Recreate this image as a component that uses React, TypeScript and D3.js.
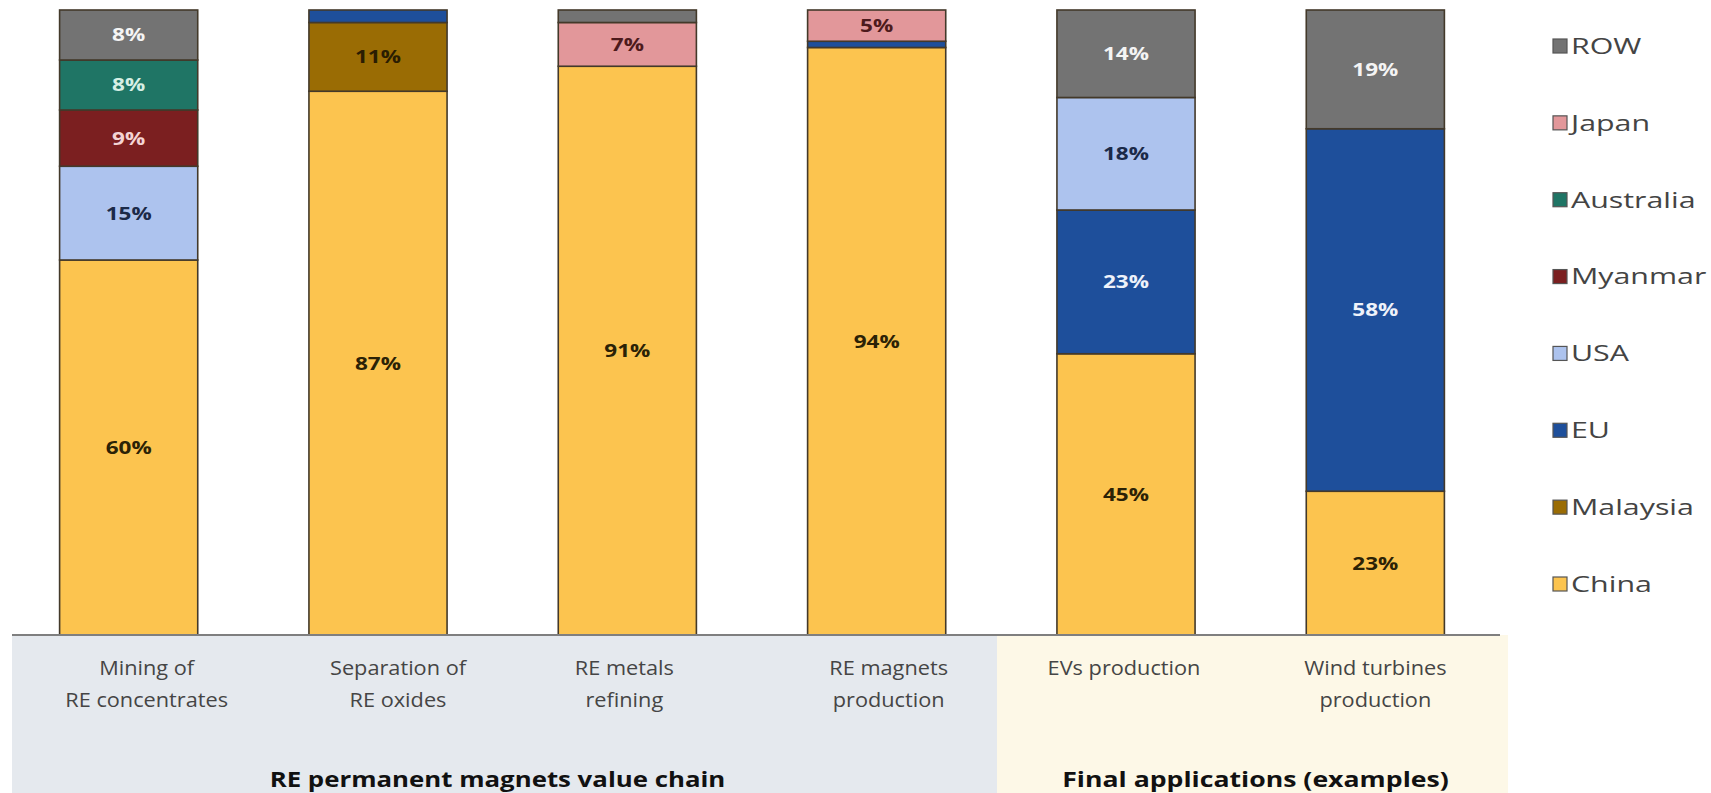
import React from "react";
import * as d3 from "d3";

const categories = [
  "Mining of RE concentrates",
  "Separation of RE oxides",
  "RE metals refining",
  "RE magnets production",
  "EVs production",
  "Wind turbines production",
];
const categoryLines = [
  ["Mining of", "RE concentrates"],
  ["Separation of", "RE oxides"],
  ["RE metals", "refining"],
  ["RE magnets", "production"],
  ["EVs production"],
  ["Wind turbines", "production"],
];
const groups = [
  { name: "RE permanent magnets value chain", from: 0, to: 3 },
  { name: "Final applications (examples)", from: 4, to: 5 },
];

// stacking order bottom -> top
const seriesNames = ["China", "Malaysia", "EU", "USA", "Myanmar", "Australia", "Japan", "ROW"];
const china = [60, 87, 91, 94, 45, 23];
const malaysia = [0, 11, 0, 0, 0, 0];
const eu = [0, 2, 0, 1, 23, 58];
const usa = [15, 0, 0, 0, 18, 0];
const myanmar = [9, 0, 0, 0, 0, 0];
const australia = [8, 0, 0, 0, 0, 0];
const japan = [0, 0, 7, 5, 0, 0];
const row = [8, 0, 2, 0, 14, 19];
const seriesValues = [china, malaysia, eu, usa, myanmar, australia, japan, row];

const fills: Record<string, string> = {
  China: "#fcc44f",
  Malaysia: "#9a6c04",
  EU: "#1e4f9b",
  USA: "#adc3ee",
  Myanmar: "#7b1f20",
  Australia: "#1f7565",
  Japan: "#e2979a",
  ROW: "#737373",
};
const labelColors: Record<string, string> = {
  China: "#2b2206",
  Malaysia: "#2a1d02",
  EU: "#eef2fa",
  USA: "#1b2a48",
  Myanmar: "#f4d4d4",
  Australia: "#d6efe4",
  Japan: "#4d1a1c",
  ROW: "#f4f4f4",
};
const legendOrder = ["ROW", "Japan", "Australia", "Myanmar", "USA", "EU", "Malaysia", "China"];

// layout nudges for category labels (text boxes were not exactly centred)
const labelNudge = [18, 20, -3, 12, -2, 0];

function SText(props: {
  x: number;
  y: number;
  sx: number;
  children: React.ReactNode;
  [k: string]: any;
}) {
  const { x, y, sx, children, ...rest } = props;
  return (
    <g transform={`translate(${x},${y}) scale(${sx},1)`}>
      <text x={0} y={0} {...rest}>
        {children}
      </text>
    </g>
  );
}

export default function App() {
  const W = 1711;
  const H = 793;
  const baseY = 635;
  const topY = 10;

  const x = d3
    .scaleBand<string>()
    .domain(categories)
    .range([4, 1500])
    .paddingInner(0.446)
    .paddingOuter(0.223);
  const y = d3.scaleLinear().domain([0, 100]).range([baseY, topY]);

  const table = categories.map((c, i) => {
    const o: Record<string, any> = { cat: c };
    seriesNames.forEach((s, k) => (o[s] = seriesValues[k][i]));
    return o;
  });
  const stacked = d3.stack<any>().keys(seriesNames)(table);

  const legendY = d3.scalePoint<string>().domain(legendOrder).range([46, 584]);

  const panelGreyX0 = 12;
  const panelSplit = 997;
  const panelEnd = 1508;

  const font = "'Open Sans', 'DejaVu Sans', sans-serif";

  return (
    <svg
      width={W}
      height={H}
      style={{ position: "absolute", left: 0, top: 0, background: "#ffffff" }}
      fontFamily={font}
    >
      {/* bottom panels */}
      <rect x={panelGreyX0} y={baseY} width={panelSplit - panelGreyX0} height={H - baseY} fill="#e5e9ee" />
      <rect x={panelSplit} y={baseY} width={panelEnd - panelSplit} height={H - baseY} fill="#fdf8e7" />

      {/* bars */}
      {stacked.map((layer) => {
        const name = layer.key;
        return (
          <g key={name}>
            {layer.map((d, i) => {
              const v = d[1] - d[0];
              if (v <= 0) return null;
              const bx = x(categories[i])!;
              const bw = x.bandwidth();
              const y0 = y(d[1]);
              const h = y(d[0]) - y(d[1]);
              return (
                <rect
                  key={i}
                  x={bx}
                  y={y0}
                  width={bw}
                  height={h}
                  fill={fills[name]}
                  stroke="#43392a"
                  strokeWidth={1.6}
                />
              );
            })}
          </g>
        );
      })}

      {/* value labels */}
      {stacked.map((layer) => {
        const name = layer.key;
        return (
          <g key={"l" + name}>
            {layer.map((d, i) => {
              const v = d[1] - d[0];
              if (v < 5) return null;
              const cx = x(categories[i])! + x.bandwidth() / 2;
              const cy = (y(d[0]) + y(d[1])) / 2;
              return (
                <SText
                  key={i}
                  x={cx}
                  y={cy}
                  sx={1.25}
                  dy="0.36em"
                  textAnchor="middle"
                  fontSize={18}
                  fontWeight={700}
                  fill={labelColors[name]}
                >
                  {v}%
                </SText>
              );
            })}
          </g>
        );
      })}

      {/* baseline */}
      <line x1={panelGreyX0} x2={1500} y1={baseY} y2={baseY} stroke="#7f7f7f" strokeWidth={2} />

      {/* category labels */}
      {categories.map((c, i) => {
        const cx = x(c)! + x.bandwidth() / 2 + labelNudge[i];
        return (
          <g key={c}>
            {categoryLines[i].map((ln, j) => (
              <SText
                key={j}
                x={cx}
                y={675 + j * 32}
                sx={1.06}
                textAnchor="middle"
                fontSize={20.5}
                fill="#454545"
              >
                {ln}
              </SText>
            ))}
          </g>
        );
      })}

      {/* group labels */}
      {groups.map((g, gi) => {
        const cx = gi === 0 ? (panelGreyX0 + panelSplit) / 2 - 7 : (panelSplit + panelEnd) / 2 + 3;
        return (
          <SText
            key={g.name}
            x={cx}
            y={787}
            sx={gi === 0 ? 1.26 : 1.3}
            textAnchor="middle"
            fontSize={20.5}
            fontWeight={700}
            fill="#111111"
          >
            {g.name}
          </SText>
        );
      })}

      {/* legend */}
      {legendOrder.map((s) => {
        const cy = legendY(s)!;
        return (
          <g key={s} transform={`translate(1553,${cy})`}>
            <rect x={0} y={-7} width={14} height={14} fill={fills[s]} stroke="#555" strokeWidth={1.2} />
            <SText x={18} y={0} sx={1.38} dy="0.36em" fontSize={22} fill="#444444">
              {s}
            </SText>
          </g>
        );
      })}
    </svg>
  );
}
